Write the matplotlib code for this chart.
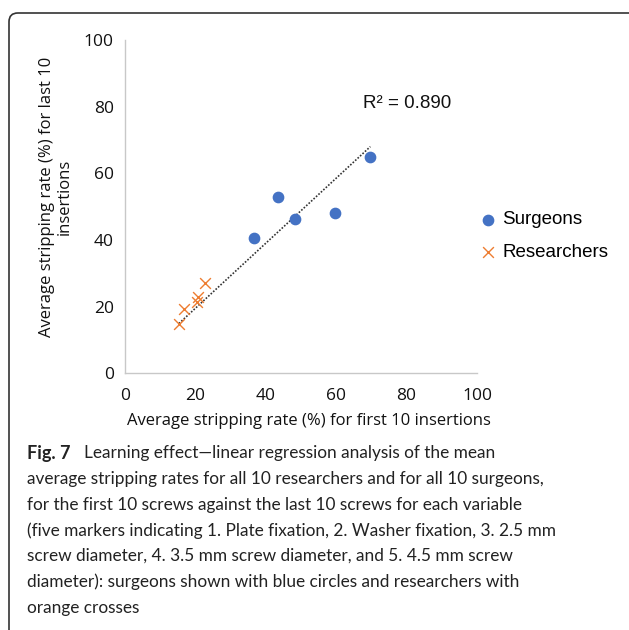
import numpy as np
import matplotlib
matplotlib.use("Agg")
import matplotlib.pyplot as plt
from matplotlib.patches import FancyBboxPatch

# mean stripping rates (%), first 10 vs last 10 insertions
surgeons_first = [36.7, 43.6, 48.4, 59.7, 69.7]
surgeons_last = [40.7, 53.0, 46.2, 48.2, 64.8]
researchers_first = [15.3, 16.9, 20.4, 20.7, 22.8]
researchers_last = [14.8, 19.3, 21.3, 22.8, 27.1]
r2_text = "R\u00b2 = 0.890"
ticks = [0, 20, 40, 60, 80, 100]

caption_lines = [
    "average stripping rates for all 10 researchers and for all 10 surgeons,",
    "for the first 10 screws against the last 10 screws for each variable",
    "(five markers indicating 1. Plate fixation, 2. Washer fixation, 3. 2.5 mm",
    "screw diameter, 4. 3.5 mm screw diameter, and 5. 4.5 mm screw",
    "diameter): surgeons shown with blue circles and researchers with",
    "orange crosses",
]
cap_font = "Lato"
cap_size = 12.4

W, H = 629, 630
fig = plt.figure(figsize=(W / 100, H / 100), dpi=100)

# axes placed by pixel position from the reference
ax = fig.add_axes([125 / W, 1 - 373.3 / H, 352 / W, 333.3 / H])

ax.scatter(surgeons_first, surgeons_last, s=55, color="#4472C4", marker="o",
           label="Surgeons", zorder=3)
ax.scatter(researchers_first, researchers_last, s=60, color="#ED7D31", marker="x",
           linewidths=1.0, label="Researchers", zorder=3)

# linear trend line through the origin over all points
all_x = np.array(surgeons_first + researchers_first)
all_y = np.array(surgeons_last + researchers_last)
slope = np.linalg.lstsq(all_x[:, None], all_y, rcond=None)[0][0]
xs = np.array([all_x.min(), all_x.max()])
ax.plot(xs, slope * xs, linestyle=(0, (1, 1)), color="#333333",
        linewidth=1.2, zorder=2)

ax.text(67.6, 80.8, r2_text, fontsize=13.5, family="Liberation Sans",
        ha="left", va="center", color="#111111")

ax.set_xlim(0, 100)
ax.set_ylim(0, 100)
ax.set_xticks(ticks)
ax.set_yticks(ticks)
ax.tick_params(length=0, labelsize=12.5, colors="#111111")
ax.tick_params(axis="x", pad=10.5)
ax.tick_params(axis="y", pad=8)
for lab in ax.get_xticklabels() + ax.get_yticklabels():
    lab.set_family("Open Sans")
for side in ["top", "right"]:
    ax.spines[side].set_visible(False)
for side in ["left", "bottom"]:
    ax.spines[side].set_color("#c8c8c8")
    ax.spines[side].set_linewidth(1.0)

fig.text(309 / W, 1 - 421 / H, "Average stripping rate (%) for first 10 insertions",
         fontsize=12, family="Open Sans", ha="center", va="center", color="#111111")
fig.text(56 / W, 1 - 197 / H, "Average stripping rate (%) for last 10\ninsertions",
         fontsize=12, family="Open Sans", ha="center", va="center",
         rotation=90, multialignment="center", color="#111111", linespacing=1.15)

leg = fig.legend(loc="center left", bbox_to_anchor=(473 / W, 1 - 236 / H), frameon=False,
                 prop={"family": "Liberation Sans", "size": 13.5},
                 handlelength=0.8, handletextpad=0.35, labelspacing=0.8,
                 borderaxespad=0, borderpad=0.4)

# caption
fig.text(27 / W, 1 - 453 / H, "Fig. 7", fontsize=cap_size + 0.6, family=cap_font,
         weight="bold", ha="left", va="center", color="#222222")
fig.text(84 / W, 1 - 453 / H, "Learning effect\u2014linear regression analysis of the mean",
         fontsize=cap_size, family=cap_font, ha="left", va="center", color="#222222")
for i, line in enumerate(caption_lines):
    fig.text(27 / W, 1 - (479 + i * 25.7) / H, line, fontsize=cap_size, family=cap_font,
             ha="left", va="center", color="#222222")

# rounded frame around the figure
frame = FancyBboxPatch((9 / W, -20 / H), 640 / W, (H - 13 + 20) / H,
                       boxstyle="round,pad=0,rounding_size=0.014",
                       transform=fig.transFigure, fill=False,
                       edgecolor="#333333", linewidth=1.2, clip_on=False)
fig.patches.append(frame)

fig.savefig("out.png", dpi=100)
